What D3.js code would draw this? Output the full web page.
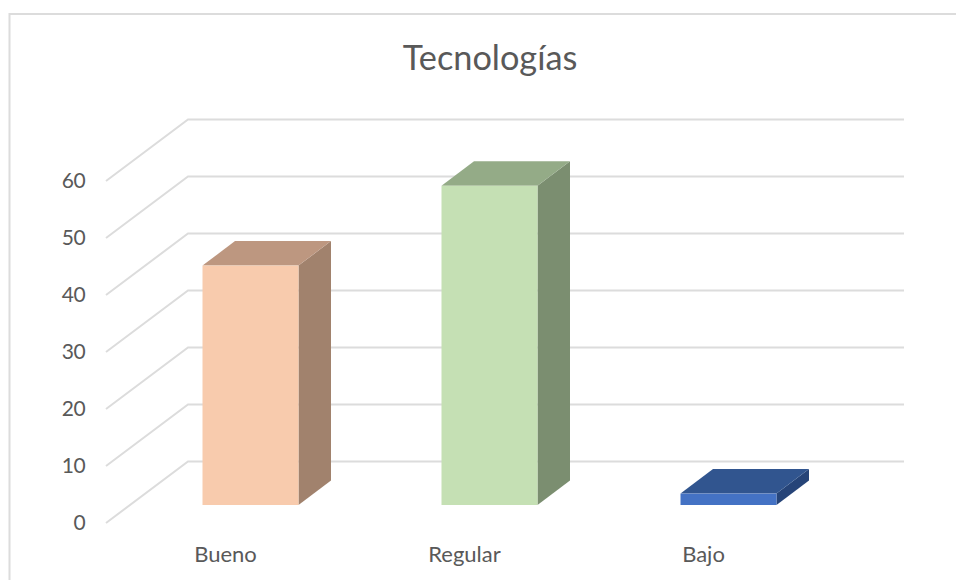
<!DOCTYPE html>
<html><head><meta charset="utf-8">
<script src="https://cdn.jsdelivr.net/npm/d3@7/dist/d3.min.js"></script>
<style>html,body{margin:0;padding:0;background:#fff;overflow:hidden}svg{display:block}text{font-family:Lato,"Open Sans",sans-serif;fill:#595959}</style>
</head><body><svg id="c" width="956" height="580"></svg>
<script>
const title = "Tecnologías";
const categories = ["Bueno", "Regular", "Bajo"];
const values = [42, 56, 2];
const frontColors = ["#F8CBAD", "#C5E0B4", "#4472C4"];
const topColors = ["#BD9780", "#94AB87", "#31558F"];
const sideColors = ["#A1826D", "#7B8E70", "#264478"];
const yTicks = [0, 10, 20, 30, 40, 50, 60];

const svg = d3.select("#c");
const x = d3.scaleBand().domain(categories).range([106, 823]);
const y = d3.scaleLinear().domain([0, 60]).range([523, 181]);
const depth = {dx: 82, dy: 61.5};
const bar = {w: 96, dx: 32.5, dy: 24.5, offX: 25, offY: 18};

svg.append("path").attr("d", "M9.5,580V14H956").attr("fill", "none").attr("stroke", "#dcdcdc").attr("stroke-width", 2);

svg.append("text").attr("x", 490).attr("y", 70).attr("text-anchor", "middle").attr("font-size", 34.3).text(title);

const line = d3.line();
svg.append("g").selectAll("path").data(yTicks).join("path")
  .attr("d", t => line([[106, y(t)], [106 + depth.dx, y(t) - depth.dy], [904, y(t) - depth.dy]]))
  .attr("fill", "none").attr("stroke", "#dcdcdc").attr("stroke-width", 2);

const bars = svg.append("g").selectAll("g").data(categories).join("g");
const L = c => x(c) + (x.bandwidth() - bar.w) / 2 + bar.offX;
const B = () => y(0) - bar.offY;
const T = (c, i) => B() - (y(0) - y(values[i]));
bars.append("path").attr("fill", (c, i) => sideColors[i])
  .attr("d", (c, i) => line([[L(c)+bar.w, B()], [L(c)+bar.w+bar.dx, B()-bar.dy], [L(c)+bar.w+bar.dx, T(c,i)-bar.dy], [L(c)+bar.w, T(c,i)]]) + "Z");
bars.append("path").attr("fill", (c, i) => topColors[i])
  .attr("d", (c, i) => line([[L(c), T(c,i)], [L(c)+bar.dx, T(c,i)-bar.dy], [L(c)+bar.w+bar.dx, T(c,i)-bar.dy], [L(c)+bar.w, T(c,i)]]) + "Z");
bars.append("rect").attr("fill", (c, i) => frontColors[i])
  .attr("x", L).attr("y", T).attr("width", bar.w).attr("height", (c, i) => B() - T(c, i));

const yAxis = svg.append("g").attr("transform", "translate(85,0)")
  .call(d3.axisLeft(y).tickValues(yTicks).tickSize(0).tickPadding(0));
yAxis.select(".domain").remove();
yAxis.selectAll("text").attr("font-size", 21).attr("letter-spacing", -0.6).style("font-family", "Lato").style("fill", "#595959");

const xAxis = svg.append("g").attr("transform", "translate(0,546)")
  .call(d3.axisBottom(x).tickSize(0).tickPadding(0));
xAxis.select(".domain").remove();
xAxis.selectAll("text").attr("font-size", 22).style("font-family", "Lato").style("fill", "#595959");
</script></body></html>
